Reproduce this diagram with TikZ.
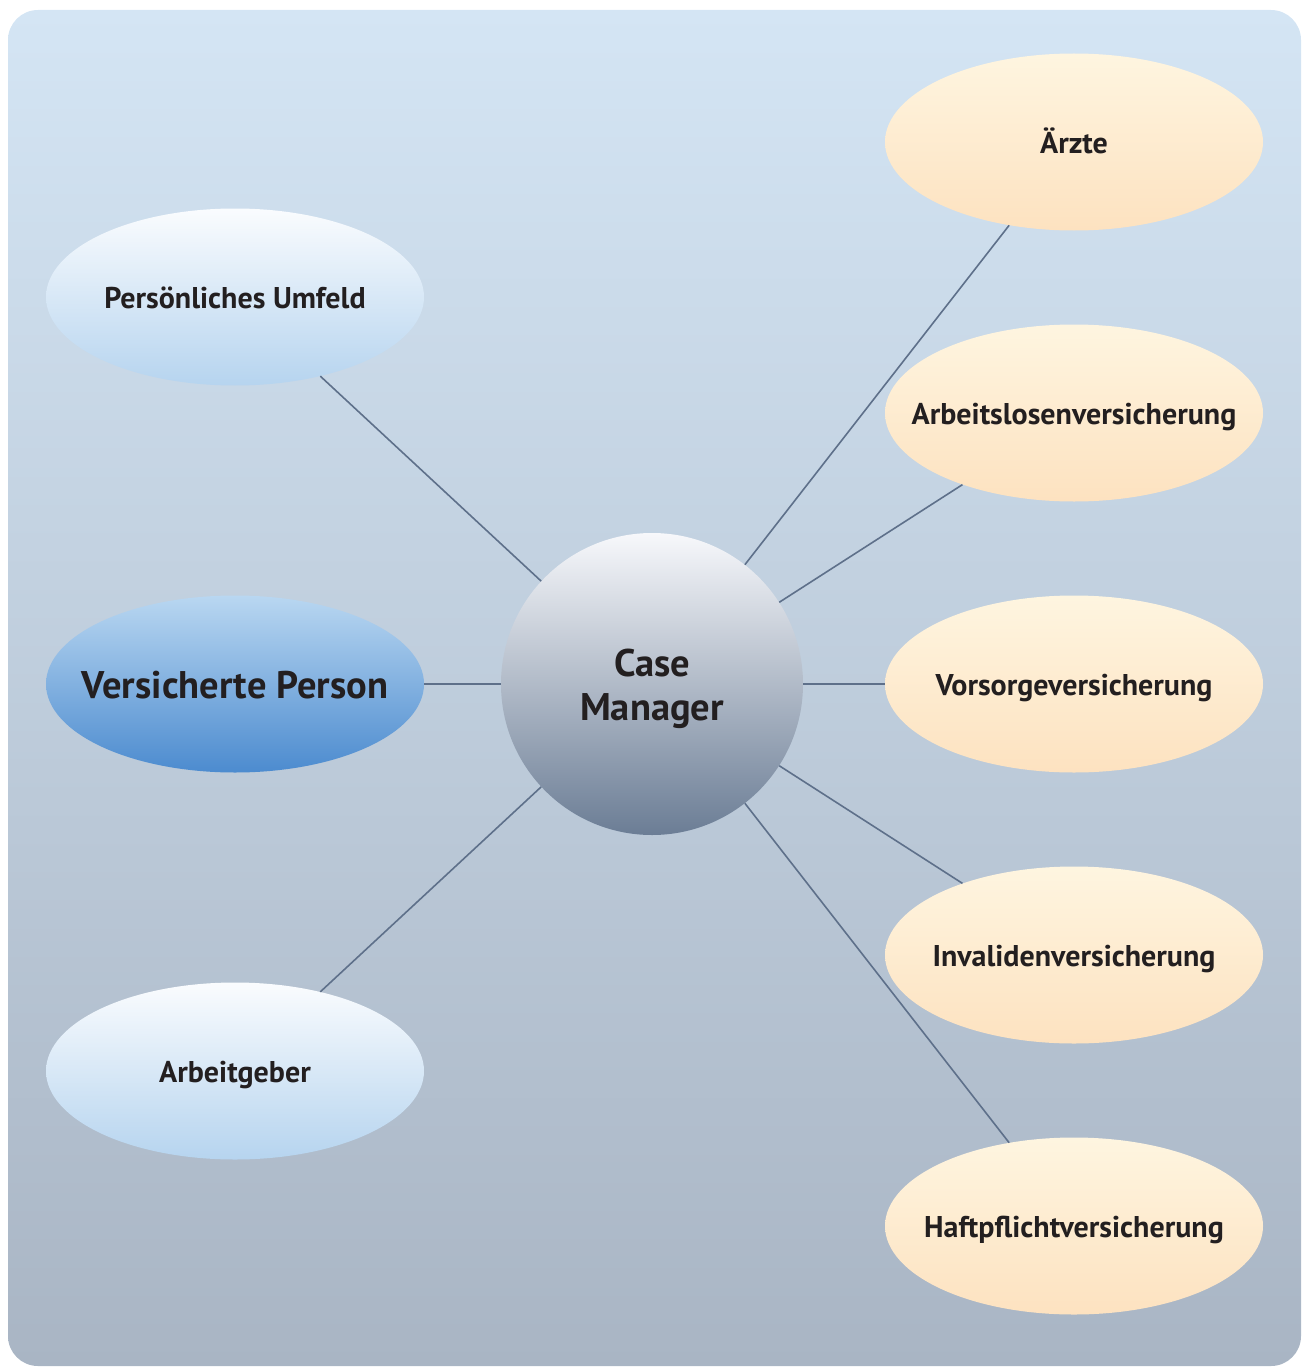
\documentclass[tikz,border=0pt]{standalone}
\usepackage{fontspec}
\setmainfont{PT Sans}
\usetikzlibrary{shapes.geometric,shadings}
\definecolor{txt}{HTML}{231F20}
\definecolor{bgtop}{HTML}{D4E5F4}
\definecolor{bgbot}{HTML}{A9B5C4}
\definecolor{ltop}{HTML}{FAFCFE}
\definecolor{lbot}{HTML}{B6D4EF}
\definecolor{vtop}{HTML}{B9D7F1}
\definecolor{vbot}{HTML}{4C8BCF}
\definecolor{rtop}{HTML}{FEF5E0}
\definecolor{rbot}{HTML}{FDE2C0}
\definecolor{ctop}{HTML}{F7F8FB}
\definecolor{cmid}{HTML}{B2BCCA}
\definecolor{cbot}{HTML}{6B7D95}
\definecolor{linec}{HTML}{5E708A}
\newcommand{\zb}[1]{\raisebox{-11.5pt}[0pt][0pt]{\makebox[0pt][c]{#1}}}
\newcommand{\zbb}[1]{\raisebox{-14pt}[0pt][0pt]{\makebox[0pt][c]{#1}}}
\tikzset{
  bubble/.style={ellipse, minimum width=378pt, minimum height=177pt, inner sep=0pt,
     text=txt, font=\bfseries\fontsize{30}{34}\selectfont},
  leftb/.style={bubble, top color=ltop, bottom color=lbot},
  mainb/.style={bubble, top color=vtop, bottom color=vbot, font=\bfseries\fontsize{38.5}{42}\selectfont},
  rightb/.style={bubble, top color=rtop, bottom color=rbot},
  hub/.style={circle, minimum size=302pt, inner sep=0pt, top color=ctop, middle color=cmid, bottom color=cbot,
     text=txt, font=\bfseries\fontsize{38.5}{44}\selectfont},
  link/.style={draw=linec, line width=1.6pt}
}
\begin{document}
\begin{tikzpicture}[x=1pt,y=-1pt]
\useasboundingbox (0,0) rectangle (1302,1367);
\shade[top color=bgtop, bottom color=bgbot, rounded corners=30pt] (8,10) rectangle (1301,1366);
\node[hub] (cm) at (652,684) {\raisebox{-36pt}[0pt][0pt]{\makebox[0pt][c]{\begin{tabular}[b]{@{}c@{}}Case\\Manager\end{tabular}}}};
\node[leftb] (pu) at (235,297) {\zb{Persönliches Umfeld}};
\node[mainb] (vp) at (235,684) {\zbb{Versicherte Person}};
\node[leftb] (ag) at (235,1071) {\zb{Arbeitgeber}};
\node[rightb] (ae) at (1074,142) {\zb{Ärzte}};
\node[rightb] (al) at (1074,413) {\zb{Arbeitslosenversicherung}};
\node[rightb] (vo) at (1074,684) {\zb{Vorsorgeversicherung}};
\node[rightb] (iv) at (1074,955) {\zb{Invalidenversicherung}};
\node[rightb] (hp) at (1074,1226) {\zb{Haftpflichtversicherung}};
\draw[link] (cm) -- (pu);
\draw[link] (cm) -- (vp);
\draw[link] (cm) -- (ag);
\draw[link] (cm) -- (ae);
\draw[link] (cm) -- (al);
\draw[link] (cm) -- (vo);
\draw[link] (cm) -- (iv);
\draw[link] (cm) -- (hp);
\end{tikzpicture}
\end{document}
